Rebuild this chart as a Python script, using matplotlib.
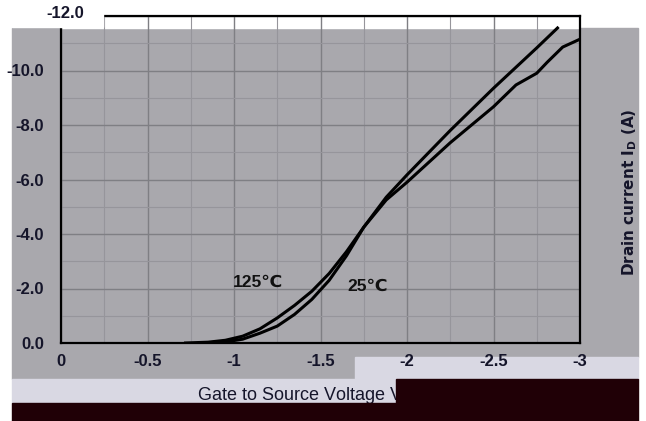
import matplotlib
matplotlib.use("Agg")
import matplotlib.pyplot as plt
from matplotlib.patches import Rectangle

plt.rcParams['font.family'] = ['Liberation Sans', 'DejaVu Sans']
plt.rcParams['axes.unicode_minus'] = False

# gate-source voltage (V) and drain current (A)
vgs_25 = [-0.8, -0.95, -1.05, -1.15, -1.25, -1.35, -1.45, -1.55, -1.65, -1.75,
          -1.88, -2.0, -2.25, -2.5, -2.75, -2.87]
id_25 = [0, -0.04, -0.14, -0.36, -0.62, -1.05, -1.6, -2.3, -3.2, -4.25,
         -5.35, -6.17, -7.8, -9.35, -10.83, -11.56]

vgs_125 = [-0.72, -0.85, -0.95, -1.05, -1.15, -1.25, -1.35, -1.45, -1.55, -1.65,
           -1.75, -1.88, -2.0, -2.25, -2.5, -2.63, -2.75, -2.81, -2.9, -3.0]
id_125 = [0, -0.03, -0.1, -0.25, -0.52, -0.92, -1.38, -1.9, -2.55, -3.35,
          -4.25, -5.25, -5.9, -7.35, -8.67, -9.47, -9.9, -10.3, -10.86, -11.15]

x_ticks = [0, -0.5, -1, -1.5, -2, -2.5, -3]
x_labels = ["0", "-0.5", "-1", "-1.5", "-2", "-2.5", "-3"]
y_ticks = [0, -2, -4, -6, -8, -10, -12]
y_labels = ["0.0", "-2.0", "-4.0", "-6.0", "-8.0", "-10.0", "-12.0"]

W, H = 646, 421
GRAY = '#a9a8ad'
LIGHT = '#d9d8e3'
DARK = '#200006'
INK = '#15152a'

fig = plt.figure(figsize=(W / 100, H / 100), dpi=100)
fig.patch.set_facecolor('white')


def box(x0, y0, x1, y1, color, z):
    # rectangle in figure pixel coords (y measured from top)
    fig.patches.append(Rectangle((x0 / W, 1 - y1 / H), (x1 - x0) / W, (y1 - y0) / H,
                                 transform=fig.transFigure, color=color, zorder=z))


# background blocks
box(12, 28, 355, 379, GRAY, -2)
box(355, 28, 638, 357, GRAY, -2)
box(12, 379, 396, 403, LIGHT, -2)
box(355, 357, 638, 379, LIGHT, -2)
box(12, 403, 396, 421, DARK, 10)
box(396, 379, 638, 421, DARK, 10)
box(12, 0, 103, 27, 'white', 1)

ax = fig.add_axes([61 / W, 1 - 343 / H, (580 - 61) / W, (343 - 16) / H])
ax.set_facecolor(GRAY)
ax.set_xlim(0, -3)
ax.set_ylim(0, -12)
ax.axhspan(-11.56, -12, color='white', zorder=0.2)

ax.set_axisbelow(True)
ax.set_xticks(x_ticks)
ax.set_xticklabels(x_labels)
# top label sits further right in the original, so it is drawn on its own
ax.set_yticks(y_ticks)
ax.set_yticklabels(y_labels[:-1] + [""])
fig.text(84 / W, 1 - 14 / H, y_labels[-1], ha='right', va='center', fontsize=12,
         fontweight='bold', color=INK, zorder=3)
ax.set_xticks([-0.25, -0.75, -1.25, -1.75, -2.25, -2.75], minor=True)
ax.set_yticks([-1, -3, -5, -7, -9, -11], minor=True)
ax.grid(which='major', color='#7f7f84', lw=1.0)
ax.grid(which='minor', color='#96959b', lw=0.8)
ax.tick_params(which='both', length=0)
ax.tick_params(axis='x', pad=8, labelsize=12, labelcolor=INK)
ax.tick_params(axis='y', pad=12, labelsize=12, labelcolor=INK)
for lab in ax.get_xticklabels() + ax.get_yticklabels():
    lab.set_fontweight('bold')
for s in ax.spines.values():
    s.set_linewidth(1.6)
    s.set_color('black')

ax.plot(vgs_25, id_25, color='black', lw=2.2, zorder=3)
ax.plot(vgs_125, id_125, color='black', lw=2.2, zorder=3)

ax.text(-1.14, -2.24, "125℃", ha='center', va='center', fontsize=12.5,
        fontweight='bold', color='#111111')
ax.text(-1.775, -2.09, "25℃", ha='center', va='center', fontsize=12.5,
        fontweight='bold', color='#111111')

fig.text(323 / W, 1 - 396 / H, "Gate to Source Voltage V$_{GS}$ (V)", ha='center', va='center',
         fontsize=13, color=INK, zorder=3)
fig.text(630 / W, 1 - 192 / H, "Drain current I$_{\\mathbf{D}}$ (A)", rotation=90,
         ha='center', va='center', fontsize=11, fontweight='bold', family='DejaVu Sans',
         color=INK)

fig.savefig("out.png", dpi=100, facecolor=fig.get_facecolor())
